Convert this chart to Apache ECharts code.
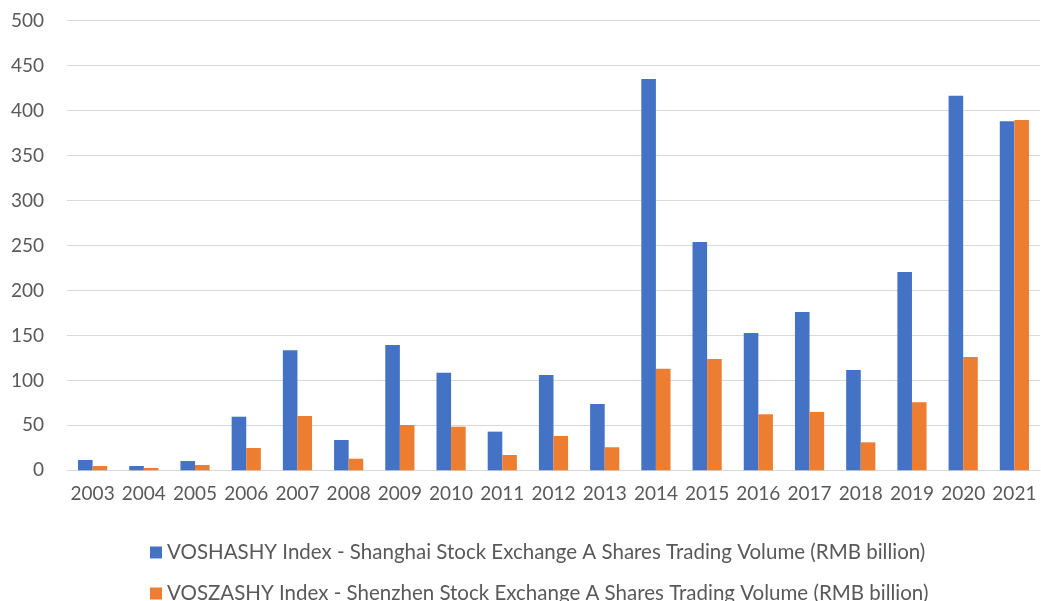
<!DOCTYPE html>
<html><head><meta charset="utf-8">
<script src="https://cdn.jsdelivr.net/npm/echarts@6/dist/echarts.min.js"></script>
<style>html,body{margin:0;padding:0;background:#fff}#c{width:1041px;height:601px}</style>
</head><body><div id="c"></div>
<script>
var years = ['2003','2004','2005','2006','2007','2008','2009','2010','2011','2012','2013','2014','2015','2016','2017','2018','2019','2020','2021'];
var shanghai = [11.5,4.8,10.3,59.6,133.5,33.7,139.4,108.6,43,106,73.7,435.3,253.9,152.7,176,111.6,220.6,416.4,388.2];
var shenzhen = [4.8,2.6,5.9,24.8,60.4,12.9,50.4,48.5,17,38.2,25.6,113,123.8,62.3,64.9,31.1,75.6,126,389.7];
var seriesNames = ['VOSHASHY Index - Shanghai Stock Exchange A Shares Trading Volume (RMB billion)',
                   'VOSZASHY Index - Shenzhen Stock Exchange A Shares Trading Volume (RMB billion)'];
var chart = echarts.init(document.getElementById('c'), null, {renderer:'canvas'});
var font = 'Lato';
function mkLegend(i, top){
  return {
    orient:'horizontal', left:145, top:top, itemWidth:12, itemHeight:12, icon:'rect',
    textStyle:{fontFamily:font,fontSize:20.5,color:'#595959'},
    data:[seriesNames[i]]
  };
}
chart.setOption({
  animation:false,
  textStyle:{fontFamily:font},
  grid:{left:67,right:1,top:20.7,bottom:130.7,containLabel:false},
  legend:[mkLegend(0,537), mkLegend(1,578)],
  xAxis:{
    type:'category', data:years,
    axisLine:{show:true,lineStyle:{color:'#d9d9d9',width:1}},
    axisTick:{show:false},
    axisLabel:{color:'#595959',fontSize:19,fontFamily:font,margin:14,interval:0}
  },
  yAxis:{
    type:'value', min:0, max:500, interval:50,
    axisLine:{show:false}, axisTick:{show:false},
    splitLine:{lineStyle:{color:'#d9d9d9',width:1}},
    axisLabel:{color:'#595959',fontSize:19,fontFamily:font,margin:23}
  },
  series:[
    {name:seriesNames[0],type:'bar',data:shanghai,itemStyle:{color:'#4472C4'},barGap:'0%',barCategoryGap:'43%'},
    {name:seriesNames[1],type:'bar',data:shenzhen,itemStyle:{color:'#ED7D31'},barGap:'0%',barCategoryGap:'43%'}
  ]
});
</script></body></html>
